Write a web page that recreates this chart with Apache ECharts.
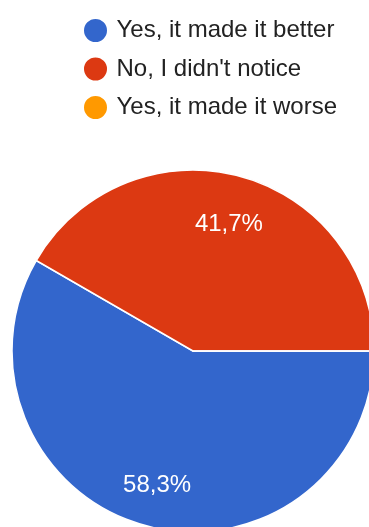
<!DOCTYPE html>
<html>
<head>
<meta charset="utf-8">
<script src="https://cdn.jsdelivr.net/npm/echarts@6/dist/echarts.min.js"></script>
<style>
  html, body { margin: 0; padding: 0; background: #fff; }
  #chart { width: 369px; height: 527px; }
</style>
</head>
<body>
<div id="chart"></div>
<script>
// Survey answers and their response counts
const answers = ['Yes, it made it better', 'No, I didn\'t notice', 'Yes, it made it worse'];
const counts = [7, 5, 0];
const colors = ['#3366cc', '#dc3912', '#ff9900'];
// small vertical nudge for each percentage label
const labelNudge = [0, 7, 0];

const slices = answers.map((name, i) => ({ name: name, value: counts[i], itemStyle: { color: colors[i] } }));

const fontFamily = '"Liberation Sans", Arial, sans-serif';
const pieCenter = [193, 351];
const pieRadius = 181;

function pctLabel(p) {
  if (!p.value) return '';
  return p.percent.toFixed(1).replace('.', ',') + '%';
}

const chart = echarts.init(document.getElementById('chart'), null, { renderer: 'canvas' });
chart.setOption({
  animation: false,
  legend: {
    orient: 'vertical',
    left: 77,
    top: 12,
    icon: 'circle',
    itemWidth: 32,
    itemHeight: 25,
    itemGap: 11.5,
    data: answers,
    textStyle: { fontFamily: fontFamily, fontSize: 24, color: '#222' }
  },
  series: [
    {
      // solid pie body
      type: 'pie',
      center: pieCenter,
      radius: [0, pieRadius],
      startAngle: 0,
      clockwise: true,
      silent: true,
      label: { show: false },
      labelLine: { show: false },
      itemStyle: { borderColor: '#fff', borderWidth: 1.5 },
      data: slices
    },
    {
      // transparent ring that carries the percentage labels further out
      type: 'pie',
      center: pieCenter,
      radius: [pieRadius / 2, pieRadius],
      startAngle: 0,
      clockwise: true,
      silent: true,
      itemStyle: { color: 'rgba(0,0,0,0)', borderWidth: 0 },
      label: {
        show: true,
        position: 'inside',
        formatter: pctLabel,
        color: '#fff',
        fontFamily: fontFamily,
        fontSize: 24
      },
      labelLine: { show: false },
      data: answers.map((name, i) => ({
        name: name,
        value: counts[i],
        label: { offset: [0, labelNudge[i]] }
      }))
    }
  ]
});
</script>
</body>
</html>
